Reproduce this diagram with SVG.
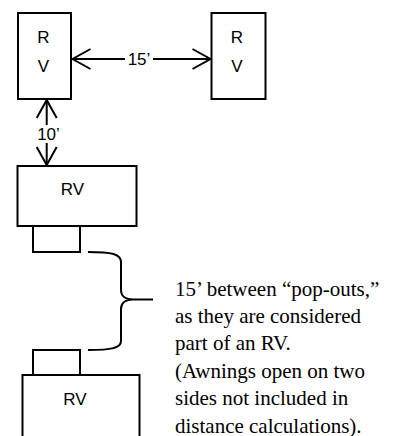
<svg xmlns="http://www.w3.org/2000/svg" width="396" height="436" viewBox="0 0 396 436">
<style>
.box{fill:#fff;stroke:#000;stroke-width:2}
.lbl{font-family:"Liberation Sans",Arial,sans-serif;font-size:17px;fill:#000}
.note{font-family:"Liberation Serif","Times New Roman",serif;font-size:21px;fill:#000}
.ln{fill:none;stroke:#000;stroke-width:2}
</style>
<defs>
<marker id="arr" viewBox="-20 -12 22 24" refX="0" refY="0" markerWidth="22" markerHeight="24" markerUnits="userSpaceOnUse" orient="auto-start-reverse">
<path d="M-18,-10 L0,0 L-18,10" fill="none" stroke="#000" stroke-width="2"/>
</marker>
</defs>
<rect width="396" height="436" fill="#fff"/>
<g id="rv1">
<rect class="box" x="18" y="13" width="53" height="86"/>
<text class="lbl" x="43.5" y="42.5" text-anchor="middle">R</text>
<text class="lbl" x="43.5" y="71.5" text-anchor="middle">V</text>
</g>
<g id="rv2">
<rect class="box" x="211.5" y="13" width="54" height="86"/>
<text class="lbl" x="237" y="42.5" text-anchor="middle">R</text>
<text class="lbl" x="237" y="71.5" text-anchor="middle">V</text>
</g>
<g id="rv3">
<rect class="box" x="17.5" y="166" width="119" height="60"/>
<text class="lbl" x="72.5" y="195" text-anchor="middle">RV</text>
</g>
<g id="popout1">
<rect class="box" x="33" y="226" width="47" height="26"/>
</g>
<g id="popout2">
<rect class="box" x="33" y="350" width="47" height="25"/>
</g>
<g id="rv4">
<rect class="box" x="22.5" y="375" width="117" height="70"/>
<text class="lbl" x="75" y="404.5" text-anchor="middle">RV</text>
</g>
<g id="connectors">
<line class="ln" x1="72.5" y1="59" x2="125" y2="59" marker-start="url(#arr)"/>
<line class="ln" x1="153" y1="59" x2="210.5" y2="59" marker-end="url(#arr)"/>
<text class="lbl" x="139" y="65" text-anchor="middle">15’</text>
<line class="ln" x1="46.7" y1="100" x2="46.7" y2="125" marker-start="url(#arr)"/>
<line class="ln" x1="46.7" y1="143" x2="46.7" y2="165" marker-end="url(#arr)"/>
<text class="lbl" x="48.5" y="140" text-anchor="middle">10’</text>
<path class="ln" d="M88,252 C112,252 121,254 121,262 L121,290 C121,296 124,299 133,299.5 L153,299.5 M133,299.5 C124,300 121,303 121,309 L121,341 C121,348 112,350 88,350"/>
</g>
<g id="note">
<text class="note" x="175" y="296">15’ between “pop-outs,”</text>
<text class="note" x="175" y="323.2">as they are considered</text>
<text class="note" x="175" y="350.4">part of an RV.</text>
<text class="note" x="175" y="377.6">(Awnings open on two</text>
<text class="note" x="175" y="404.8">sides not included in</text>
<text class="note" x="175" y="432.5">distance calculations).</text>
</g>
</svg>
